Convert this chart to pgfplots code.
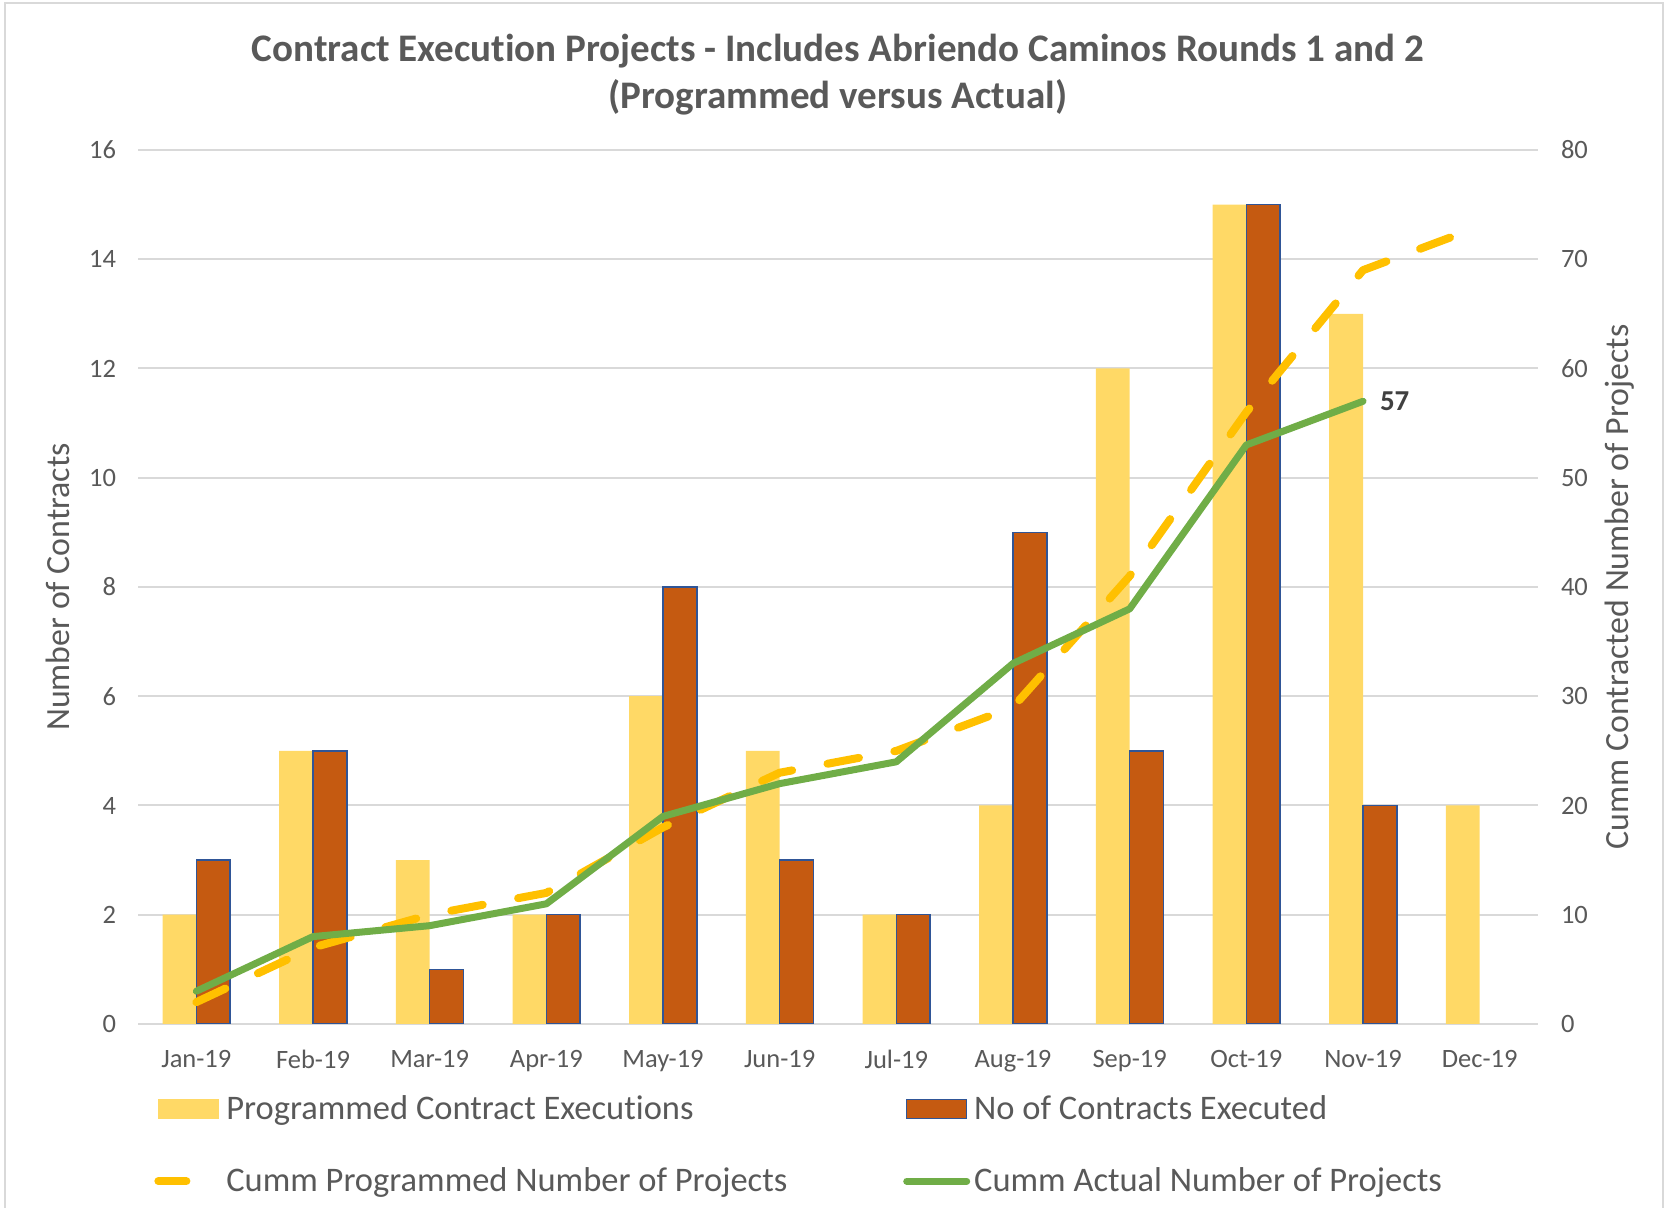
\documentclass[border=0pt]{standalone}
\usepackage{pgfplots}
\pgfplotsset{compat=1.18}
\usepackage{fontspec}
\setmainfont{Carlito}[Ligatures={NoCommon}]
\definecolor{progbar}{HTML}{FFD966}
\definecolor{actbar}{HTML}{C55A11}
\definecolor{actedge}{HTML}{2F5597}
\definecolor{progline}{HTML}{FFC000}
\definecolor{actline}{HTML}{70AD47}
\definecolor{txt}{HTML}{595959}
\definecolor{gridc}{HTML}{D9D9D9}
\begin{document}
\begin{tikzpicture}
\useasboundingbox (0,0) rectangle (834.5bp,604bp);
\draw[gridc, line width=1.2bp] (2.5bp,0) -- (2.5bp,602.5bp) -- (831.5bp,602.5bp) -- (831.5bp,0);
\node[text=txt, font=\fontsize{19.6}{23.5}\selectfont\bfseries, align=center] at (419bp,566.5bp) {Contract Execution Projects - Includes Abriendo Caminos Rounds 1 and 2\\(Programmed versus Actual)};

\begin{axis}[
  at={(69bp,92bp)}, anchor=south west,
  scale only axis, width=700bp, height=437bp,
  xmin=-0.5, xmax=11.5, ymin=0, ymax=16,
  ytick={0,2,...,16},
  xtick={0,...,11},
  xticklabels={Jan-19,Feb-19,Mar-19,Apr-19,May-19,Jun-19,Jul-19,Aug-19,Sep-19,Oct-19,Nov-19,Dec-19},
  ymajorgrids, grid style={gridc, line width=1bp},
  axis line style={draw=none}, tick style={draw=none},
  ybar=0pt, bar width=0.29,
  tick label style={font=\fontsize{13.3}{15}\selectfont, text=txt},
  xticklabel style={yshift=-5.4bp},
  yticklabel style={xshift=-7.5bp},
  /pgf/number format/assume math mode=true,
  ylabel={Number of Contracts},
  every axis y label/.style={at={(axis description cs:-0.057,0.5)}, rotate=90, anchor=center, font=\fontsize{17}{20}\selectfont, text=txt},
]
\addplot[fill=progbar, draw=none] coordinates {(0,2) (1,5) (2,3) (3,2) (4,6) (5,5) (6,2) (7,4) (8,12) (9,15) (10,13) (11,4)};
\addplot[fill=actbar, draw=actedge, line width=0.75bp] coordinates {(0,3) (1,5) (2,1) (3,2) (4,8) (5,3) (6,2) (7,9) (8,5) (9,15) (10,4)};
\end{axis}

\begin{axis}[
  at={(69bp,92bp)}, anchor=south west,
  scale only axis, width=700bp, height=437bp,
  xmin=-0.5, xmax=11.5, ymin=0, ymax=80,
  ytick={0,10,...,80}, xtick=\empty,
  axis y line*=right, axis x line=none,
  axis line style={draw=none}, tick style={draw=none},
  tick label style={font=\fontsize{13.3}{15}\selectfont, text=txt},
  yticklabel style={xshift=8bp},
  /pgf/number format/assume math mode=true,
  ylabel={Cumm Contracted Number of Projects},
  every axis y label/.style={at={(axis description cs:1.0586,0.5)}, rotate=90, anchor=center, font=\fontsize{17}{20}\selectfont, text=txt},
  legend columns=2,
  legend cell align=left,
  legend style={at={(axis description cs:0.0114,-0.077)}, anchor=north west, draw=none, fill=none, inner sep=0pt,
    font=\fontsize{17.3}{20}\selectfont, text=txt, row sep=18.6bp,
    /tikz/every even column/.append style={column sep=56bp}},
]
\addlegendimage{legend image code/.code={\fill[progbar] (2bp,-4.75bp) rectangle (32bp,4.75bp);}}
\addlegendentry{Programmed Contract Executions}
\addlegendimage{legend image code/.code={\filldraw[fill=actbar, draw=actedge, line width=0.75bp] (2bp,-4.75bp) rectangle (32bp,4.75bp);}}
\addlegendentry{No of Contracts Executed}
\addplot[progline, line width=4bp, line cap=round, line join=round, dash pattern=on 16bp off 18bp,
  legend image code/.code={\draw[progline, line width=4bp, line cap=round] (2bp,0) -- (16bp,0); \path (32bp,0);}]
  coordinates {(0,2) (1,7) (2,10) (3,12) (4,18) (5,23) (6,25) (7,29) (8,41) (9,56) (10,69) (11,73)};
\addlegendentry{Cumm Programmed Number of Projects}
\addplot[actline, line width=3.5bp, line cap=round, line join=round,
  legend image code/.code={\draw[actline, line width=3.5bp, line cap=round] (2bp,0) -- (32bp,0);}]
  coordinates {(0,3) (1,8) (2,9) (3,11) (4,19) (5,22) (6,24) (7,33) (8,38) (9,53) (10,57)};
\addlegendentry{Cumm Actual Number of Projects}
\node[anchor=west, xshift=5bp, font=\fontsize{14.5}{16}\selectfont\bfseries, text=black!75] at (axis cs:10,57) {57};
\end{axis}
\end{tikzpicture}
\end{document}
